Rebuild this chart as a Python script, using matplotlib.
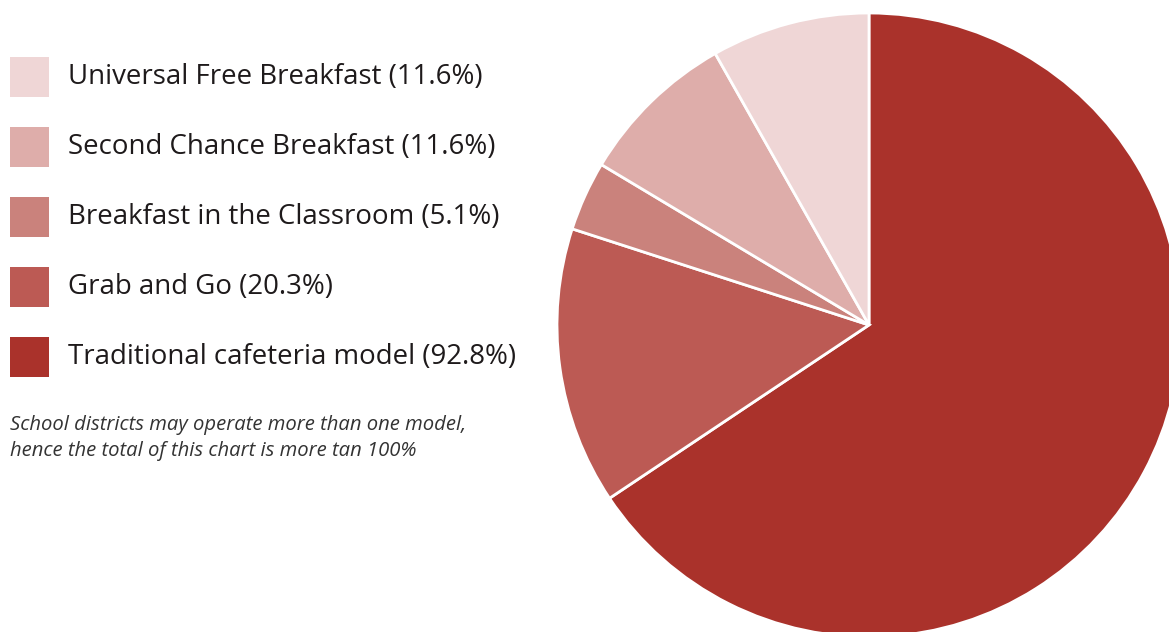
import matplotlib.pyplot as plt
from matplotlib.patches import Rectangle

# data (share of school districts, %) - order as drawn clockwise from 12 o'clock
models = ['Traditional cafeteria model', 'Grab and Go', 'Breakfast in the Classroom',
          'Second Chance Breakfast', 'Universal Free Breakfast']
shares = [92.8, 20.3, 5.1, 11.6, 11.6]
colors = ['#aa322b', '#bc5a54', '#ca827c', '#deadaa', '#efd6d6']

note = ('School districts may operate more than one model,\n'
        'hence the total of this chart is more tan 100%')

W, H = 1169, 632
fig = plt.figure(figsize=(W / 100, H / 100), dpi=100)
ax = fig.add_axes([0, 0, 1, 1])

# pie in pixel coordinates
ax.pie(shares, colors=colors, startangle=90, counterclock=False,
       center=(869, H - 325), radius=312,
       wedgeprops=dict(edgecolor='white', linewidth=2))

# legend, top to bottom is reverse of drawing order
font = 'Open Sans'
for i, (name, val, col) in enumerate(zip(models[::-1], shares[::-1], colors[::-1])):
    yc = H - (77 + i * 70)
    ax.add_patch(Rectangle((10, yc - 20), 39, 40, facecolor=col, edgecolor='none'))
    ax.text(68, yc, f'{name} ({val}%)', fontsize=19.9, family=font,
            color='#1e1a1b', va='center', ha='left')

ax.text(10, H - 438, note, fontsize=14.6, family=font, style='italic',
        color='#333333', va='center', ha='left', linespacing=1.38)

ax.set_xlim(0, W)
ax.set_ylim(0, H)
ax.set_aspect('equal')
ax.axis('off')

fig.savefig('out.png', dpi=100, facecolor='white')
